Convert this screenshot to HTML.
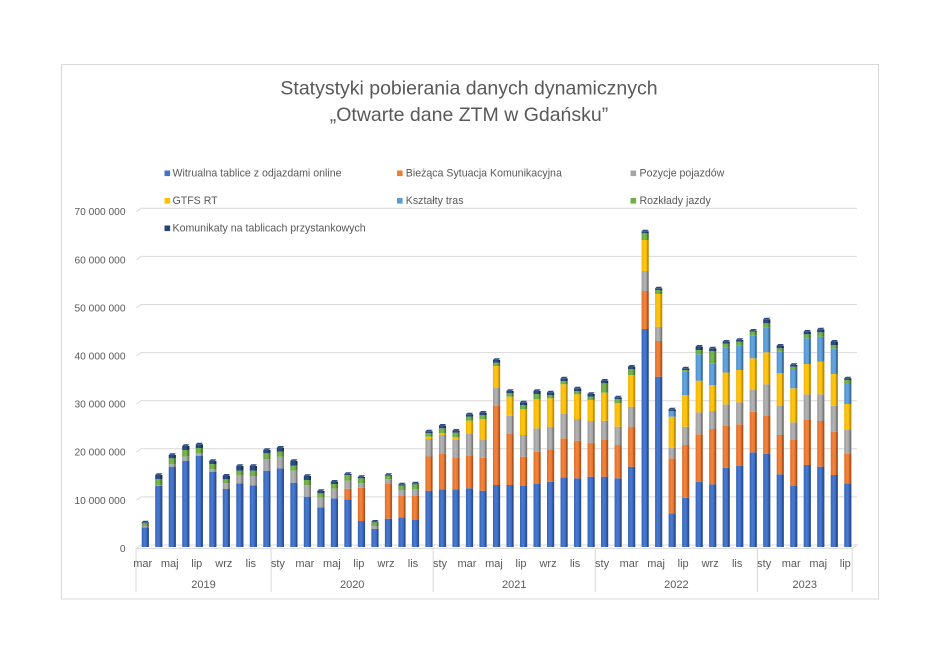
<!DOCTYPE html>
<html><head><meta charset="utf-8">
<style>
html,body{margin:0;padding:0;background:#fff;}
svg{display:block;font-family:"Liberation Sans","DejaVu Sans",sans-serif;}
</style></head><body>
<svg width="940" height="665" viewBox="0 0 940 665" xmlns="http://www.w3.org/2000/svg">
<defs>
<linearGradient id="g0" x1="0" x2="1" y1="0" y2="0"><stop offset="0" stop-color="#3562b3"/><stop offset="0.4" stop-color="#4a7bd2"/><stop offset="0.76" stop-color="#3966bb"/><stop offset="0.76" stop-color="#2b4f94"/><stop offset="1" stop-color="#2b4f94"/></linearGradient>
<linearGradient id="g1" x1="0" x2="1" y1="0" y2="0"><stop offset="0" stop-color="#dd6e28"/><stop offset="0.4" stop-color="#f28540"/><stop offset="0.76" stop-color="#e2732e"/><stop offset="0.76" stop-color="#b0551d"/><stop offset="1" stop-color="#b0551d"/></linearGradient>
<linearGradient id="g2" x1="0" x2="1" y1="0" y2="0"><stop offset="0" stop-color="#9b9b9b"/><stop offset="0.4" stop-color="#b4b4b4"/><stop offset="0.76" stop-color="#a0a0a0"/><stop offset="0.76" stop-color="#7b7b7b"/><stop offset="1" stop-color="#7b7b7b"/></linearGradient>
<linearGradient id="g3" x1="0" x2="1" y1="0" y2="0"><stop offset="0" stop-color="#f2b500"/><stop offset="0.4" stop-color="#ffc61a"/><stop offset="0.76" stop-color="#f5ba00"/><stop offset="0.76" stop-color="#c08f00"/><stop offset="1" stop-color="#c08f00"/></linearGradient>
<linearGradient id="g4" x1="0" x2="1" y1="0" y2="0"><stop offset="0" stop-color="#4f8fca"/><stop offset="0.4" stop-color="#67a6de"/><stop offset="0.76" stop-color="#5596d0"/><stop offset="0.76" stop-color="#3c6f9e"/><stop offset="1" stop-color="#3c6f9e"/></linearGradient>
<linearGradient id="g5" x1="0" x2="1" y1="0" y2="0"><stop offset="0" stop-color="#64a03f"/><stop offset="0.4" stop-color="#7bb954"/><stop offset="0.76" stop-color="#68a442"/><stop offset="0.76" stop-color="#4d7a30"/><stop offset="1" stop-color="#4d7a30"/></linearGradient>
<linearGradient id="g6" x1="0" x2="1" y1="0" y2="0"><stop offset="0" stop-color="#223e6e"/><stop offset="0.4" stop-color="#2e5088"/><stop offset="0.76" stop-color="#25426f"/><stop offset="0.76" stop-color="#1a2f55"/><stop offset="1" stop-color="#1a2f55"/></linearGradient>
</defs>
<rect width="940" height="665" fill="#fff"/>
<rect x="61.5" y="64.5" width="817" height="534.5" fill="#fff" stroke="#d9d9d9" stroke-width="1"/>

<text x="469" y="94.3" text-anchor="middle" font-size="19.5" fill="#595959">Statystyki pobierania danych dynamicznych</text>
<text x="469" y="121" text-anchor="middle" font-size="19.5" fill="#595959">„Otwarte dane ZTM w Gdańsku”</text>

<g font-size="10.6" fill="#595959">
<rect x="164.5" y="170.5" width="5.6" height="5.6" fill="#4472c4"/><text x="172.5" y="176.6">Witrualna tablice z odjazdami online</text>
<rect x="397" y="170.5" width="5.6" height="5.6" fill="#ed7d31"/><text x="405.8" y="176.6">Bieżąca Sytuacja Komunikacyjna</text>
<rect x="630.5" y="170.5" width="5.6" height="5.6" fill="#a5a5a5"/><text x="639.5" y="176.6">Pozycje pojazdów</text>
<rect x="164.5" y="198" width="5.6" height="5.6" fill="#ffc000"/><text x="172.5" y="204">GTFS RT</text>
<rect x="397" y="198" width="5.6" height="5.6" fill="#5b9bd5"/><text x="405.8" y="204">Kształty tras</text>
<rect x="630.5" y="198" width="5.6" height="5.6" fill="#70ad47"/><text x="639.5" y="204">Rozkłady jazdy</text>
<rect x="164.5" y="225.5" width="5.6" height="5.6" fill="#264478"/><text x="172.5" y="231.6">Komunikaty na tablicach przystankowych</text>
</g>

<g stroke="#d9d9d9" stroke-width="1" fill="none">
<path d="M136.5 500.3 L141 496.9 L857 496.9"/>
<path d="M136.5 452.2 L141 448.8 L857 448.8"/>
<path d="M136.5 404.1 L141 400.7 L857 400.7"/>
<path d="M136.5 356 L141 352.6 L857 352.6"/>
<path d="M136.5 307.9 L141 304.5 L857 304.5"/>
<path d="M136.5 259.8 L141 256.4 L857 256.4"/>
<path d="M136.5 211.7 L141 208.3 L857 208.3"/>
<path d="M136.5 548.4 L141 545 L857 545 L852.5 548.4 Z"/>
<path d="M136 548.5 V592 M271.1 548.5 V592 M433.2 548.5 V592 M595.3 548.5 V592 M757.5 548.5 V592 M852.1 548.5 V592"/>
</g>

<g font-size="10.2" fill="#595959" text-anchor="end">
<text x="125.5" y="551.9">0</text>
<text x="125.5" y="503.8">10 000 000</text>
<text x="125.5" y="455.7">20 000 000</text>
<text x="125.5" y="407.6">30 000 000</text>
<text x="125.5" y="359.5">40 000 000</text>
<text x="125.5" y="311.4">50 000 000</text>
<text x="125.5" y="263.3">60 000 000</text>
<text x="125.5" y="215.2">70 000 000</text>
</g>

<g id="bars"></g>

<g font-size="11" fill="#595959" text-anchor="middle">
<text x="142.75" y="567">mar</text>
<text x="169.77" y="567">maj</text>
<text x="196.79" y="567">lip</text>
<text x="223.81" y="567">wrz</text>
<text x="250.83" y="567">lis</text>
<text x="277.85" y="567">sty</text>
<text x="304.87" y="567">mar</text>
<text x="331.89" y="567">maj</text>
<text x="358.91" y="567">lip</text>
<text x="385.93" y="567">wrz</text>
<text x="412.95" y="567">lis</text>
<text x="439.97" y="567">sty</text>
<text x="466.99" y="567">mar</text>
<text x="494.01" y="567">maj</text>
<text x="521.03" y="567">lip</text>
<text x="548.05" y="567">wrz</text>
<text x="575.07" y="567">lis</text>
<text x="602.09" y="567">sty</text>
<text x="629.11" y="567">mar</text>
<text x="656.13" y="567">maj</text>
<text x="683.15" y="567">lip</text>
<text x="710.17" y="567">wrz</text>
<text x="737.19" y="567">lis</text>
<text x="764.21" y="567">sty</text>
<text x="791.23" y="567">mar</text>
<text x="818.25" y="567">maj</text>
<text x="845.27" y="567">lip</text>
<text x="203.5" y="588">2019</text>
<text x="352.2" y="588">2020</text>
<text x="514.3" y="588">2021</text>
<text x="676.4" y="588">2022</text>
<text x="804.8" y="588">2023</text>
</g>
</svg>
<script>
const D=[
[527.3,527.3,526,526,526,523.3,520.7],
[485.7,485.7,485,485,485,479,473.3],
[466.7,466.7,464.3,464.3,464.3,458.3,453.3],
[460.7,460.7,456.7,456.7,456.7,450,444.3],
[456,456,453.3,453.3,453.3,448,442.7],
[471.7,471.7,469.3,469.3,469.3,464,459.3],
[489,489,483.3,483.3,483.3,479.3,474],
[483.3,483.3,475.3,475.3,475.3,470.7,464.3],
[485.3,485.3,476,476,476,470.7,464.3],
[470.7,470.7,459.3,459.3,459.3,453.3,448.3],
[468.3,468.3,456.7,456.7,456.7,451.7,446],
[482.7,482.7,470.7,470.7,470.7,465.7,459.3],
[496.7,496.7,485.3,485.3,485.3,480,474.3],
[507.3,507.3,497.7,497.7,497.7,493.3,489.3],
[498.3,498.3,488.7,488.7,488.7,484,480],
[499.3,488.7,480.7,480.7,480.7,475,472.3],
[521,487.7,483.3,483.3,483.3,478.3,475.3],
[529,529,526,526,526,522.3,520],
[518.7,483.3,479.3,479.3,479.3,475.7,473.3],
[517.3,496,490,490,490,485.7,482.7],
[520,496,489.3,489.3,489.3,484.3,481.7],
[490.7,456.5,439,436.7,436.7,433,429.7],
[489.3,453.3,435,433.3,433.3,428.3,424],
[489.3,457.3,439.3,437.3,437.3,432.7,429],
[488.3,456,433.3,420.7,420.7,416.7,412.7],
[490.7,457.7,439.3,419,419,415,411],
[485,406,387.3,366,366,362.7,358.3],
[485,434,415.7,396.7,396.7,393.3,389.3],
[486,456.7,435,409.3,409.3,405,400.7],
[484,451.7,428.3,399.3,399.3,394,389.3],
[481.7,449.3,426.7,398.3,398.3,395,390.7],
[477.3,438.3,413.3,384.3,384.3,381,376.7],
[478.3,440.7,419,394.3,394.3,391,386.7],
[476.7,442.7,421,400,400,396.7,392.3],
[476.7,440,420.7,392.7,392.7,383.3,379],
[478.3,445,426.7,403.3,403.3,399,395.7],
[466.7,426.7,406.7,375,375,369,365],
[329,291,271,240,240,233.3,229.7],
[376.7,341,326.7,294,294,290,286.7],
[513.3,458.3,447.7,416.7,411,411,407.7],
[497.7,445,426.7,395,371.7,370,366.7],
[481.7,434.3,412.3,380.7,354.3,350,345],
[484.3,429,411,385,363.3,351,346.7],
[467.7,425.3,404.3,372.5,347.2,343.7,340],
[466,424.3,402.3,370,345.7,341.7,338.3],
[452.3,411.7,390,358.3,335.7,331.7,329],
[454,416,384.3,352.3,327.7,323.3,317.7],
[474.3,435,406,373.3,351.7,348.3,344],
[486,440,422.3,388.3,369,366.7,363.3],
[465,420,394.3,364,338.3,334.3,330],
[466.7,421,394.3,361.7,336.7,332.3,327.7],
[475,431.7,405.7,374,348.3,345,340],
[483.3,454,430,404,384,380,376.7]
];
let s='';
D.forEach((d,i)=>{
  const c=145.3+13.51*i, x=c-3.6;
  const tops=d.slice(); tops[6]=d[6]+1.6;
  let prev=547;
  for(let k=0;k<7;k++){
    const t=tops[k];
    if(prev-t>0.05){
      s+='<rect x="'+x.toFixed(2)+'" y="'+t.toFixed(2)+'" width="7.2" height="'+(prev-t).toFixed(2)+'" fill="url(#g'+k+')"/>';
      prev=t;
    }
  }
  const ft=tops[6];
  s+='<polygon points="'+x.toFixed(2)+','+ft.toFixed(2)+' '+(x+5.6).toFixed(2)+','+ft.toFixed(2)+' '+(x+7.2).toFixed(2)+','+(ft-1.6).toFixed(2)+' '+(x+1.6).toFixed(2)+','+(ft-1.6).toFixed(2)+'" fill="#2d4c84"/>';
});
document.getElementById('bars').innerHTML=s;
</script>
</body></html>
